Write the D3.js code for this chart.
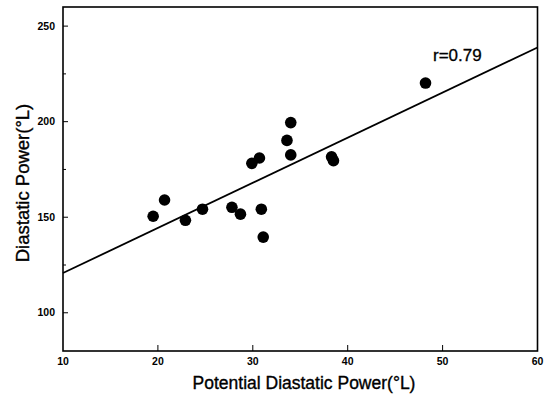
<!DOCTYPE html>
<html lang="en">
<head>
	<meta charset="UTF-8">
	<title>Diastatic Power vs Potential Diastatic Power</title>
	<style>
		body {
			margin: 0;
			background: #fff;
		}

		svg {
			display: block;
		}

		.tick-label {
			font-family: "Liberation Sans", Arial, sans-serif;
			font-weight: bold;
			font-size: 10.5px;
			fill: #000;
		}

		.axis-title {
			font-family: "Liberation Sans", Arial, sans-serif;
			font-size: 17.5px;
			fill: #000;
			stroke: #000;
			stroke-width: 0.35px;
		}
	</style>
	<script src="https://d3js.org/d3.v7.min.js"></script>
</head>
<body>
	<script>
		// values
		var potentialDP = [19.5, 20.7, 22.9, 24.7, 27.8, 28.7, 30.9, 31.1, 29.9, 30.7, 33.6, 34.0, 34.0, 38.3, 38.5, 48.2];
		var diastaticDP = [150.5, 159, 148.4, 154.2, 155.2, 151.6, 154.2, 139.6, 178.2, 181.0, 190.2, 199.5, 182.6, 181.6, 179.6, 220.2];

		// regression line end points
		var fitX = [10, 60];
		var fitY = [120.8, 238.8];

		var xTicks = [10, 20, 30, 40, 50, 60];
		var yTicks = [100, 150, 200, 250];
		var yMinorTicks = [125, 175, 225];

		const width = 552;
		const height = 396;
		const margin = { left: 63, right: 14.5, top: 7, bottom: 45 };

		var svg = d3.select("body")
			.append("svg")
			.attr("width", width)
			.attr("height", height);

		var x = d3.scaleLinear()
			.domain([10, 60])
			.range([margin.left, width - margin.right]);

		var y = d3.scaleLinear()
			.domain([80, 260])
			.range([height - margin.bottom, margin.top]);

		// frame
		svg.append("rect")
			.attr("x", x(10))
			.attr("y", y(260))
			.attr("width", x(60) - x(10))
			.attr("height", y(80) - y(260))
			.attr("fill", "none")
			.attr("stroke", "#000")
			.attr("stroke-width", 1.6);

		// inward ticks
		svg.selectAll(".ytick")
			.data(yTicks.concat(yMinorTicks))
			.enter()
			.append("line")
			.attr("x1", x(10))
			.attr("x2", function (d) { return x(10) + (yTicks.indexOf(d) >= 0 ? 5 : 3); })
			.attr("y1", function (d) { return y(d); })
			.attr("y2", function (d) { return y(d); })
			.attr("stroke", "#000")
			.attr("stroke-width", 1);

		svg.selectAll(".xtick")
			.data(xTicks.slice(1, -1))
			.enter()
			.append("line")
			.attr("x1", function (d) { return x(d); })
			.attr("x2", function (d) { return x(d); })
			.attr("y1", y(80))
			.attr("y2", y(80) - 6)
			.attr("stroke", "#000")
			.attr("stroke-width", 1);

		// tick labels
		svg.selectAll(".ylabel")
			.data(yTicks)
			.enter()
			.append("text")
			.attr("class", "tick-label")
			.attr("x", x(10) - 8)
			.attr("y", function (d) { return y(d) + 3.5; })
			.attr("text-anchor", "end")
			.text(function (d) { return d; });

		svg.selectAll(".xlabel")
			.data(xTicks)
			.enter()
			.append("text")
			.attr("class", "tick-label")
			.attr("x", function (d) { return x(d); })
			.attr("y", y(80) + 14)
			.attr("text-anchor", "middle")
			.text(function (d) { return d; });

		// axis titles
		svg.append("text")
			.attr("class", "axis-title")
			.attr("x", 304)
			.attr("y", 389)
			.attr("text-anchor", "middle")
			.text("Potential Diastatic Power(°L)");

		svg.append("text")
			.attr("class", "axis-title")
			.attr("transform", "translate(29,183) rotate(-90)")
			.attr("text-anchor", "middle")
			.style("font-size", "18.5px")
			.text("Diastatic Power(°L)");

		// regression line
		var line = d3.line()
			.x(function (d) { return x(d[0]); })
			.y(function (d) { return y(d[1]); });

		svg.append("path")
			.datum(d3.zip(fitX, fitY))
			.attr("d", line)
			.attr("fill", "none")
			.attr("stroke", "#000")
			.attr("stroke-width", 1.8);

		// points
		svg.selectAll(".dot")
			.data(d3.zip(potentialDP, diastaticDP))
			.enter()
			.append("circle")
			.attr("cx", function (d) { return x(d[0]); })
			.attr("cy", function (d) { return y(d[1]); })
			.attr("r", 5.8)
			.attr("fill", "#000");

		svg.append("text")
			.attr("x", 433)
			.attr("y", 61)
			.attr("font-family", "Liberation Sans, Arial, sans-serif")
			.attr("font-size", "17px")
			.attr("stroke", "#000")
			.attr("stroke-width", 0.3)
			.text("r=0.79");
	</script>
</body>
</html>
